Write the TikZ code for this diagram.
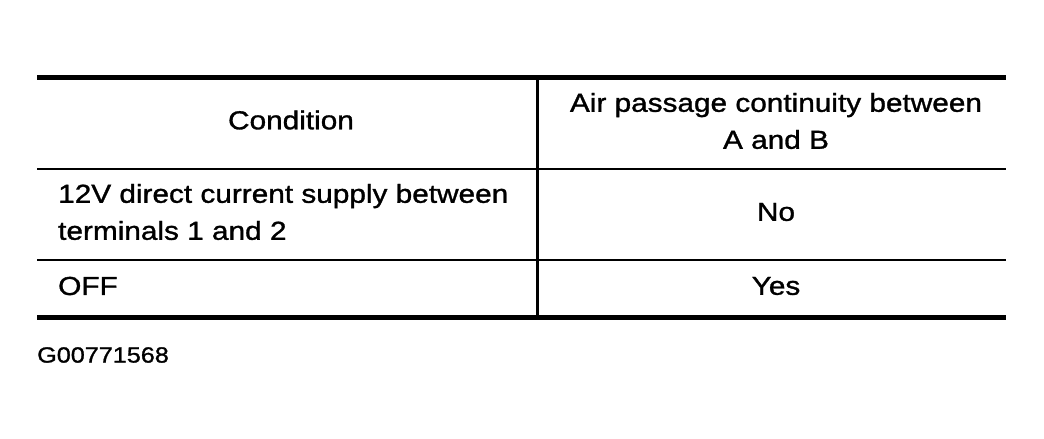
\documentclass[tikz,border=0pt]{standalone}
\usepackage{fontspec}
\setmainfont[FakeStretch=1.145,FakeBold=1.2]{Liberation Sans}
\begin{document}
\begin{tikzpicture}[x=1pt,y=-1pt,
  thick rule/.style={line width=5pt},
  thin rule/.style={line width=2.5pt},
  cell/.style={font=\fontsize{26}{37}\selectfont, inner sep=0pt},
  cellc/.style={cell, align=center},
  celll/.style={cell, align=left, anchor=west}]
\useasboundingbox (0,0) rectangle (1044,439);
\coordinate (tl) at (37,77);
\coordinate (tr) at (1006,77);
\coordinate (hl) at (37,169);
\coordinate (hr) at (1006,169);
\coordinate (rl) at (37,260);
\coordinate (rr) at (1006,260);
\coordinate (bl) at (37,317);
\coordinate (br) at (1006,317);
\coordinate (vt) at (537,77);
\coordinate (vb) at (537,317);
\draw[thick rule] (tl) -- (tr);
\draw[thin rule] (hl) -- (hr);
\draw[thin rule] (rl) -- (rr);
\draw[thick rule] (bl) -- (br);
\draw[line width=3pt] (vt) -- (vb);
\node[cellc] (h1) at (291,120) {Condition};
\node[cellc] (h2) at (776,121) {Air passage continuity between\\A and B};
\node[celll] (c1) at (58,212) {12V direct current supply between\\terminals 1 and 2};
\node[cellc] (v1) at (776,212) {No};
\node[celll] (c2) at (58,286) {OFF};
\node[cellc] (v2) at (776,286) {Yes};
\node[cell, anchor=west, font=\fontsize{22}{28}\selectfont] (id) at (37,355) {G00771568};
\end{tikzpicture}
\end{document}
